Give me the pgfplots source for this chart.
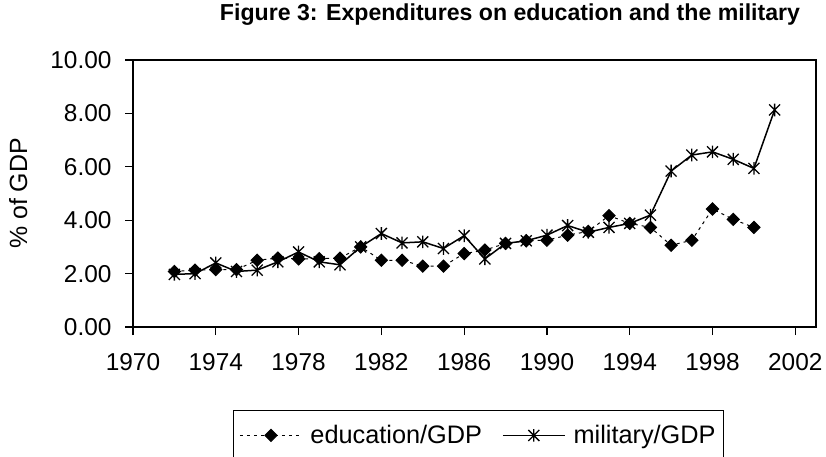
\documentclass[border=0pt]{standalone}
\usepackage{fontspec}
\setmainfont{Liberation Sans}
\usepackage{pgfplots}
\pgfplotsset{compat=1.18}
\pgfdeclareplotmark{xstar}{%
  \pgfpathmoveto{\pgfqpoint{-\pgfplotmarksize}{-\pgfplotmarksize}}%
  \pgfpathlineto{\pgfqpoint{\pgfplotmarksize}{\pgfplotmarksize}}%
  \pgfpathmoveto{\pgfqpoint{-\pgfplotmarksize}{\pgfplotmarksize}}%
  \pgfpathlineto{\pgfqpoint{\pgfplotmarksize}{-\pgfplotmarksize}}%
  \pgfpathmoveto{\pgfqpoint{0pt}{-1.15\pgfplotmarksize}}%
  \pgfpathlineto{\pgfqpoint{0pt}{1.15\pgfplotmarksize}}%
  \pgfusepathqstroke}
\begin{document}
\begin{tikzpicture}
\useasboundingbox (-133bp,-130bp) rectangle (693bp,327bp);
\begin{axis}[
  at={(0,0)}, anchor=south west,
  scale only axis,
  width=683bp, height=267bp,
  xmin=1970, xmax=2003, ymin=0, ymax=10,
  xtick={1970,1974,...,2002},
  ytick={0,2,...,10},
  tick pos=left, tick align=outside,
  major tick length=8bp,
  axis line style={line width=1.3bp},
  every tick/.style={black, line width=1.3bp},
  /pgf/number format/assume math mode=true,
  xticklabel style={font=\fontsize{24.5}{28}\selectfont, /pgf/number format/1000 sep={}, yshift=-15bp},
  yticklabel style={font=\fontsize{24.5}{28}\selectfont, /pgf/number format/fixed, /pgf/number format/fixed zerofill, /pgf/number format/precision=2, xshift=-10bp},
  ylabel={\% of GDP},
  ylabel style={font=\fontsize{25}{29}\selectfont, at={(-102bp,0.5)}, anchor=south},
  legend columns=2,
  legend style={at={(0.1464,-0.3109)}, anchor=north west, draw=black, line width=1bp,
    font=\fontsize{25.4}{30}\selectfont, inner xsep=6bp, inner ysep=13bp,
    /tikz/every odd column/.append style={column sep=6bp},
    /tikz/every even column/.append style={column sep=18bp}},
  legend cell align=left,
  legend image code/.code={\draw[mark repeat=2,mark phase=2,#1] plot coordinates {(0bp,0bp) (31bp,0bp) (62bp,0bp)};},
]
\addplot[black, line width=1bp, dash pattern=on 3bp off 4bp,
  mark=square*, mark size=4.3bp, mark options={solid, rotate=45}]
coordinates {
(1972,2.08) (1973,2.13) (1974,2.15) (1975,2.15) (1976,2.50) (1977,2.58)
(1978,2.55) (1979,2.56) (1980,2.58) (1981,3.00) (1982,2.50) (1983,2.50)
(1984,2.28) (1985,2.28) (1986,2.75) (1987,2.88) (1988,3.13) (1989,3.23)
(1990,3.25) (1991,3.44) (1992,3.58) (1993,4.17) (1994,3.88) (1995,3.73)
(1996,3.06) (1997,3.25) (1998,4.42) (1999,4.03) (2000,3.73)
};
\addlegendentry{education/GDP}
\addplot[black, line width=1.5bp,
  mark=xstar, mark size=5.5bp, mark options={solid, line width=1.3bp}]
coordinates {
(1972,1.97) (1973,2.00) (1974,2.40) (1975,2.08) (1976,2.13) (1977,2.44)
(1978,2.81) (1979,2.44) (1980,2.33) (1981,3.00) (1982,3.50) (1983,3.15)
(1984,3.19) (1985,2.94) (1986,3.42) (1987,2.55) (1988,3.13) (1989,3.23)
(1990,3.44) (1991,3.80) (1992,3.55) (1993,3.73) (1994,3.88) (1995,4.19)
(1996,5.84) (1997,6.44) (1998,6.56) (1999,6.28) (2000,5.94) (2001,8.13)
};
\addlegendentry{military/GDP}
\end{axis}
\node[font=\bfseries\fontsize{23.2}{27}\selectfont] at (377bp,312bp) {Figure 3: Expenditures on education and the military};
\end{tikzpicture}
\end{document}
